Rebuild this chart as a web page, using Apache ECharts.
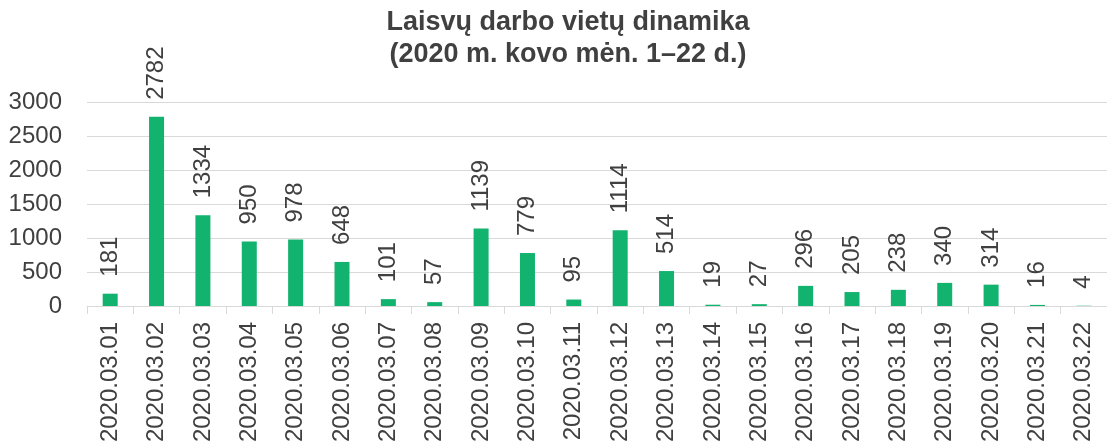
<!DOCTYPE html>
<html><head><meta charset="utf-8">
<script src="https://cdn.jsdelivr.net/npm/echarts@6/dist/echarts.min.js"></script>
<style>html,body{margin:0;padding:0;background:#fff}#c{width:1107px;height:448px}</style>
</head><body><div id="c"></div>
<script>
const categories = ["2020.03.01","2020.03.02","2020.03.03","2020.03.04","2020.03.05","2020.03.06","2020.03.07","2020.03.08","2020.03.09","2020.03.10","2020.03.11","2020.03.12","2020.03.13","2020.03.14","2020.03.15","2020.03.16","2020.03.17","2020.03.18","2020.03.19","2020.03.20","2020.03.21","2020.03.22"];
const values = [181,2782,1334,950,978,648,101,57,1139,779,95,1114,514,19,27,296,205,238,340,314,16,4];
const titleText = "Laisvų darbo vietų dinamika\n(2020 m. kovo mėn. 1–22 d.)";
const chart = echarts.init(document.getElementById('c'));
const F = "Liberation Sans, Arial, sans-serif";
chart.setOption({
  animation:false,
  title:{text:titleText,left:563,textAlign:'center',top:2,textStyle:{fontFamily:F,fontSize:27,fontWeight:'bold',color:'#404040',lineHeight:32}},
  grid:{left:87,right:-5,top:102,bottom:142,containLabel:false},
  xAxis:{type:'category',data:categories,
    axisLine:{lineStyle:{color:'#d9d9d9',width:1}},
    axisTick:{show:true,length:8,lineStyle:{color:'#d9d9d9'}},
    axisLabel:{rotate:90,fontFamily:F,fontSize:24,color:'#404040',margin:16,interval:0}},
  yAxis:{type:'value',min:0,max:3000,interval:500,
    axisLine:{show:false},axisTick:{show:false},
    splitLine:{lineStyle:{color:'#d9d9d9',width:1}},
    axisLabel:{fontFamily:F,fontSize:24,color:'#404040',margin:25,formatter:v=>String(v)}},
  series:[{type:'bar',data:values,barWidth:15,itemStyle:{color:'#12b26f'},
    label:{show:true,position:'top',rotate:90,align:'left',verticalAlign:'middle',distance:17,fontFamily:F,fontSize:24,color:'#404040'}}]
});
</script></body></html>
